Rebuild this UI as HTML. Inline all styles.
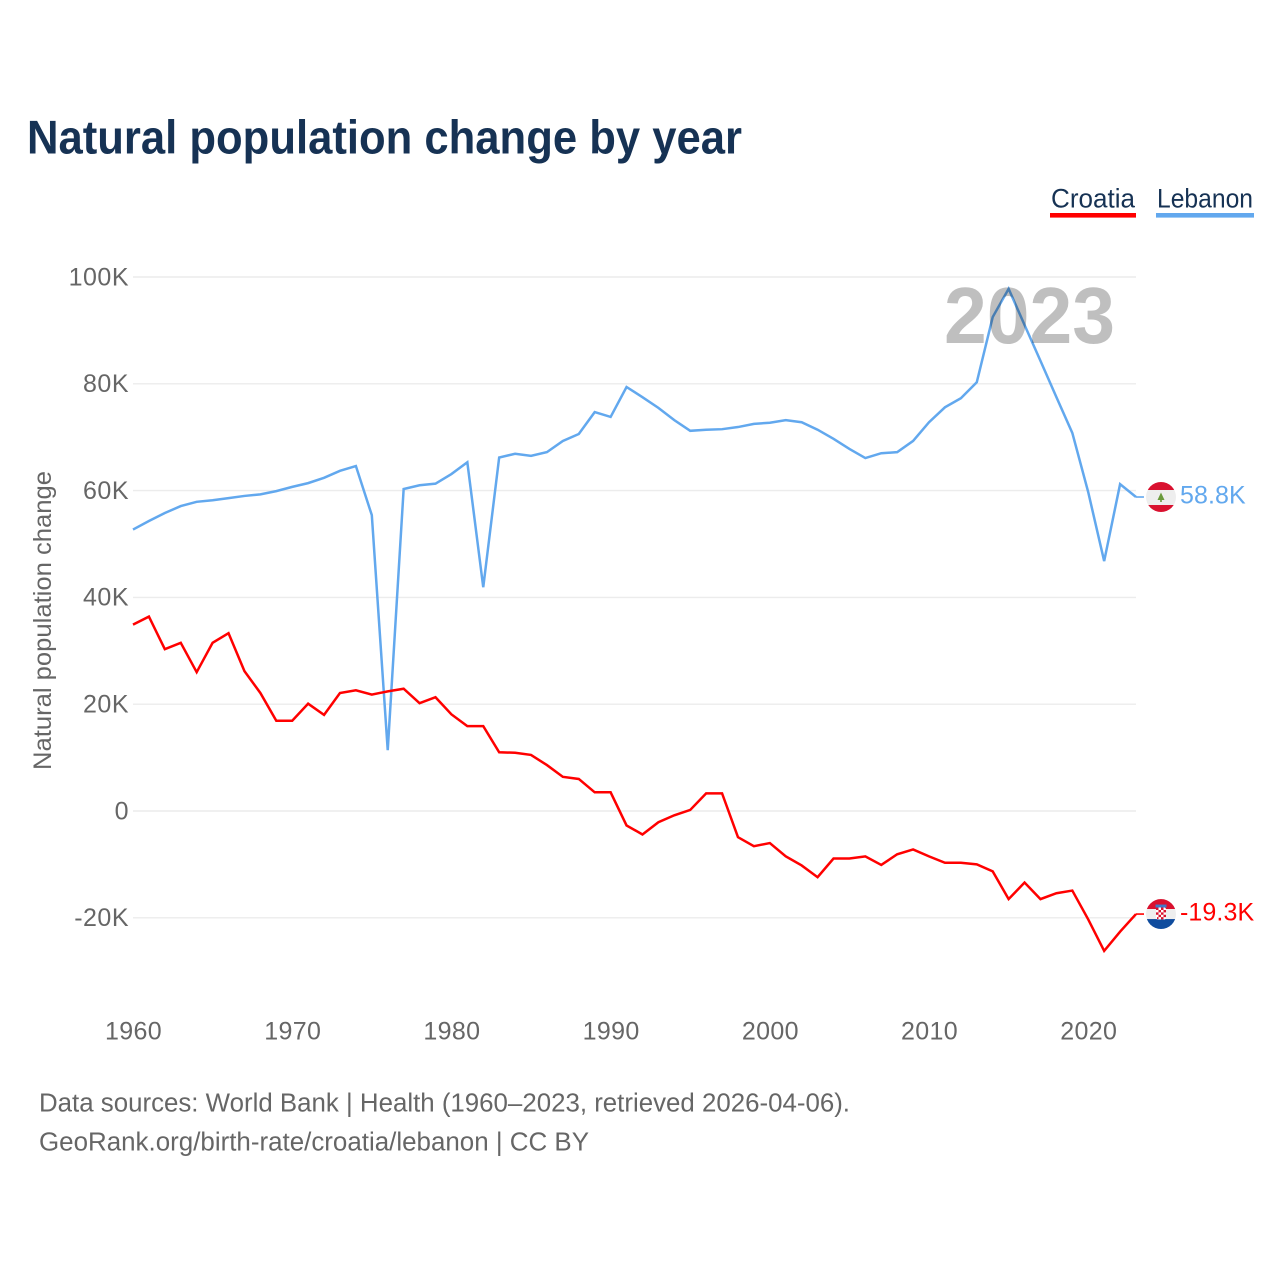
<!DOCTYPE html>
<html lang="en">
<head>
<meta charset="utf-8">
<title>Natural population change by year</title>
<style>
  html, body { margin: 0; padding: 0; background: #fff; width: 1280px; height: 1280px; overflow: hidden; }
  svg { display: block; font-family: "Liberation Sans", sans-serif; }
</style>
</head>
<body>
<svg id="chart" xmlns="http://www.w3.org/2000/svg" width="1280" height="1280" viewBox="0 0 1280 1280">
  <defs>
    <clipPath id="flag-clip"><circle cx="0" cy="0" r="15"></circle></clipPath>
  </defs>
  <rect x="0" y="0" width="1280" height="1280" fill="#ffffff"></rect>
  <text x="27" y="153.5" font-size="47" font-weight="700" fill="#163254" textLength="715" lengthAdjust="spacingAndGlyphs">Natural population change by year</text>

  <g>
    <text x="1051" y="207.5" font-size="27" fill="#163254" textLength="84" lengthAdjust="spacingAndGlyphs">Croatia</text>
    <rect x="1050" y="213" width="86" height="4.6" fill="#ff0000"></rect>
  </g>
  <g>
    <text x="1157" y="207.5" font-size="27" fill="#163254" textLength="96" lengthAdjust="spacingAndGlyphs">Lebanon</text>
    <rect x="1156" y="213" width="98" height="4.6" fill="#62a8ee"></rect>
  </g>

  <g id="grid"></g>
  <g id="y-ticks"></g>
  <g id="x-ticks"></g>
  <text transform="translate(51 620.5) rotate(-90)" text-anchor="middle" font-size="25" fill="#666666" textLength="299" lengthAdjust="spacingAndGlyphs">Natural population change</text>

  <g id="series"></g>

  <text x="944" y="343" font-size="80" font-weight="700" fill="#000000" fill-opacity="0.25" textLength="171" lengthAdjust="spacingAndGlyphs">2023</text>

  <g id="flag-lebanon">
    <g clip-path="url(#flag-clip)">
      <rect x="-15" y="-15" width="30" height="8" fill="#d9112f"></rect>
      <rect x="-15" y="-7" width="30" height="15" fill="#eeeeee"></rect>
      <rect x="-15" y="8" width="30" height="7" fill="#d9112f"></rect>
      <polygon points="0,-4.5 3.5,3 0.8,3 0.8,5 -0.8,5 -0.8,3 -3.5,3" fill="#6a9a3c"></polygon>
    </g>
  </g>

  <g id="flag-croatia">
    <g clip-path="url(#flag-clip)">
      <rect x="-15" y="-15" width="30" height="10" fill="#d9112f"></rect>
      <rect x="-15" y="-5" width="30" height="10" fill="#eeeeee"></rect>
      <rect x="-15" y="5" width="30" height="11" fill="#0f4c9e"></rect>
      <rect x="-5.5" y="-9.5" width="11" height="3" fill="#3f78c8"></rect>
      <rect x="-5" y="-6.5" width="10" height="12" rx="2" fill="#ffffff"></rect>
      <path d="M-5-6.5h2.5v2.4h-2.5zM0-6.5h2.5v2.4H0zM-2.5-4.1H0v2.4h-2.5zM2.5-4.1H5v2.4H2.5zM-5-1.7h2.5v2.4H-5zM0-1.7h2.5v2.4H0zM-2.5.7H0v2.4h-2.5zM2.5.7H5v2.4H2.5zM-4 3.1h1.5v2H-4zM0 3.1h2.5v2.2H0z" fill="#d9112f"></path>
    </g>
  </g>

  <text x="39" y="1111.5" font-size="25.5" fill="#666666" textLength="811" lengthAdjust="spacingAndGlyphs">Data sources: World Bank | Health (1960–2023, retrieved 2026-04-06).</text>
  <text x="39" y="1150.5" font-size="25.5" fill="#666666" textLength="550" lengthAdjust="spacingAndGlyphs">GeoRank.org/birth-rate/croatia/lebanon | CC BY</text>
</svg>

<script>
const startYear = 1960;
const yTickValues = [-20, 0, 20, 40, 60, 80, 100];
const yTickLabels = ["-20K", "0", "20K", "40K", "60K", "80K", "100K"];
const xTickValues = [1960, 1970, 1980, 1990, 2000, 2010, 2020];
const croatiaValues = [34.9, 36.4, 30.3, 31.5, 26, 31.5, 33.3, 26.2, 22.1, 16.9, 16.9, 20.1, 18, 22.1, 22.6, 21.8, 22.4, 22.9, 20.2, 21.3, 18.1, 15.9, 15.9, 11, 10.9, 10.5, 8.6, 6.4, 6, 3.5, 3.5, -2.7, -4.4, -2.1, -0.8, 0.2, 3.3, 3.3, -4.9, -6.6, -6, -8.5, -10.2, -12.4, -8.9, -8.9, -8.5, -10.1, -8.1, -7.2, -8.5, -9.7, -9.7, -10, -11.3, -16.5, -13.4, -16.5, -15.4, -14.9, -20.3, -26.2, -22.6, -19.3];
const lebanonValues = [52.7, 54.3, 55.8, 57.1, 57.9, 58.2, 58.6, 59, 59.3, 59.9, 60.7, 61.4, 62.4, 63.7, 64.6, 55.4, 11.4, 60.3, 61, 61.3, 63.1, 65.3, 41.9, 66.2, 66.9, 66.5, 67.2, 69.3, 70.6, 74.7, 73.8, 79.4, 77.5, 75.5, 73.2, 71.2, 71.4, 71.5, 71.9, 72.5, 72.7, 73.2, 72.8, 71.4, 69.7, 67.8, 66.1, 67, 67.2, 69.3, 72.8, 75.6, 77.3, 80.3, 92.5, 97.8, 91, 84.3, 77.5, 70.8, 59.7, 46.8, 61.2, 58.8];

const NS = 'http://www.w3.org/2000/svg';
const xScale = function (year) { return 133 + (year - 1960) * (1003 / 63); };
const yScale = function (value) { return 811 - value * 5.34; };
const plotLeft = 133;
const plotRight = 1136;

function make(tag, parent) {
  const el = document.createElementNS(NS, tag);
  parent.appendChild(el);
  return el;
}

const grid = document.getElementById('grid');
const yTicks = document.getElementById('y-ticks');
yTickValues.forEach(function (value, i) {
  const line = make('line', grid);
  
  
  line.setAttribute('x1', plotLeft);
  line.setAttribute('x2', plotRight);
  line.setAttribute('y1', yScale(value));
  line.setAttribute('y2', yScale(value));
  line.setAttribute('stroke', '#ececec');
  line.setAttribute('stroke-width', '1.4');

  const label = make('text', yTicks);
  
  
  label.setAttribute('x', 129);
  label.setAttribute('y', yScale(value) + 8.3);
  label.setAttribute('text-anchor', 'end');
  label.setAttribute('font-size', '25');
  label.setAttribute('letter-spacing', '0.5');
  label.setAttribute('fill', '#666666');
  label.textContent = yTickLabels[i];
});

const xTicks = document.getElementById('x-ticks');
xTickValues.forEach(function (year) {
  const label = make('text', xTicks);
  
  
  label.setAttribute('x', xScale(year) + 0.5);
  label.setAttribute('y', 1039.5);
  label.setAttribute('text-anchor', 'middle');
  label.setAttribute('font-size', '25');
  label.setAttribute('letter-spacing', '0.35');
  label.setAttribute('fill', '#666666');
  label.textContent = String(year);
});

function formatValue(value) {
  return value.toFixed(1) + 'K';
}

function drawSeries(values, color, seriesName, flagId) {
  const group = document.getElementById('series');
  const points = values.map(function (value, i) {
    return xScale(startYear + i).toFixed(2) + ',' + yScale(value).toFixed(2);
  }).join(' ');

  const line = make('polyline', group);
  
  
  line.setAttribute('data-series', seriesName);
  line.setAttribute('points', points);
  line.setAttribute('fill', 'none');
  line.setAttribute('stroke', color);
  line.setAttribute('stroke-width', '2.5');
  line.setAttribute('stroke-linejoin', 'miter');

  const last = values[values.length - 1];
  const lastX = xScale(startYear + values.length - 1);
  const lastY = yScale(last);

  const connector = make('line', group);
  
  
  connector.setAttribute('x1', lastX);
  connector.setAttribute('x2', lastX + 8);
  connector.setAttribute('y1', lastY);
  connector.setAttribute('y2', lastY);
  connector.setAttribute('stroke', color);
  connector.setAttribute('stroke-width', '1.6');

  const valueLabel = make('text', group);
  
  
  valueLabel.setAttribute('x', 1180);
  valueLabel.setAttribute('y', lastY + 6.5);
  valueLabel.setAttribute('font-size', '25');
  valueLabel.setAttribute('letter-spacing', '0.1');
  valueLabel.setAttribute('fill', color);
  valueLabel.textContent = formatValue(last);

  document.getElementById(flagId).setAttribute('transform', 'translate(1161 ' + lastY + ')');
}

drawSeries(lebanonValues, '#62a8ee', 'lebanon', 'flag-lebanon');
drawSeries(croatiaValues, '#ff0000', 'croatia', 'flag-croatia');
</script>
</body>
</html>
